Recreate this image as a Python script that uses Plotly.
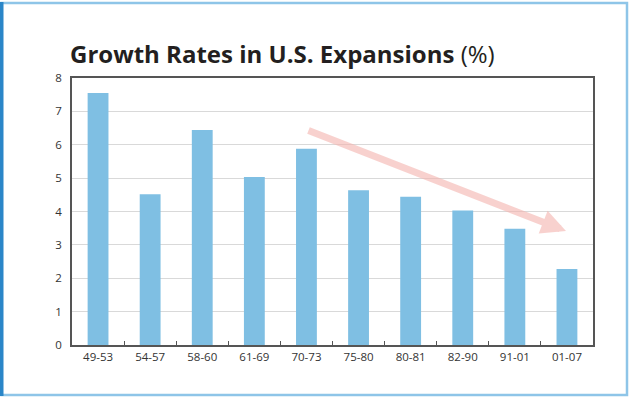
import plotly.graph_objects as go

periods = ["49-53", "54-57", "58-60", "61-69", "70-73", "75-80", "80-81", "82-90", "91-01", "01-07"]
growth = [7.55, 4.52, 6.44, 5.03, 5.88, 4.64, 4.44, 4.03, 3.48, 2.28]
y_ticks = [0, 1, 2, 3, 4, 5, 6, 7, 8]

W, H = 630, 398
L, R, T, B = 72, 37, 78, 53
pw, ph = W - L - R, H - T - B

def px(x):
    return (x - L) / pw

def py(y):
    return (H - B - y) / ph

fig = go.Figure()
fig.add_trace(go.Bar(
    x=periods, y=growth,
    marker=dict(color="#7fbfe3", line=dict(width=0)),
    hoverinfo="x+y",
))

fig.update_layout(
    width=W, height=H,
    margin=dict(l=L, r=R, t=T, b=B),
    paper_bgcolor="white", plot_bgcolor="white",
    bargap=0.6,
    showlegend=False,
    font=dict(family="Open Sans, Lato, sans-serif", size=11, color="#333333"),
    title=dict(
        text="<b>Growth Rates in U.S. Expansions</b> (%)",
        x=70 / W, xanchor="left", xref="container",
        y=1 - 55 / H, yanchor="middle", yref="container",
        font=dict(family="Open Sans, sans-serif", size=24, color="#231f20"),
    ),
    xaxis=dict(
        type="category",
        showline=True, linecolor="#555555", linewidth=1.5, mirror=True,
        ticks="inside", tickson="boundaries", ticklen=4, tickcolor="#555555",
        showgrid=False,
        tickfont=dict(size=11.5, color="#333333"),
    ),
    yaxis=dict(
        range=[0, 8], tickvals=y_ticks,
        showline=True, linecolor="#555555", linewidth=1.5, mirror=True,
        showgrid=True, gridcolor="#d9d9d9", gridwidth=1,
        ticks="", ticklabelstandoff=6,
        tickfont=dict(size=11.5, color="#333333"),
        zeroline=False,
    ),
)

# Trend arrow (decorative)
fig.add_annotation(
    xref="paper", yref="paper",
    x=px(566), y=py(231),
    ax=307 - 566, ay=130 - 231,
    axref="pixel", ayref="pixel",
    text="", showarrow=True,
    arrowhead=2, arrowsize=0.7, arrowwidth=7,
    arrowcolor="rgba(245,180,175,0.6)",
)

# Outer frame
fig.add_shape(type="rect", xref="paper", yref="paper",
              x0=px(1.5), x1=px(627), y0=py(395), y1=py(3),
              line=dict(color="#8ec5e8", width=2.5), fillcolor="rgba(0,0,0,0)", layer="below")
fig.add_shape(type="rect", xref="paper", yref="paper",
              x0=px(0), x1=px(3.5), y0=py(396), y1=py(2),
              line=dict(width=0), fillcolor="#2a86c8", layer="above")

fig.write_html(
    "out.html",
    config={"displayModeBar": False},
    post_script="document.body.style.margin='0';document.body.style.overflow='hidden';",
)
